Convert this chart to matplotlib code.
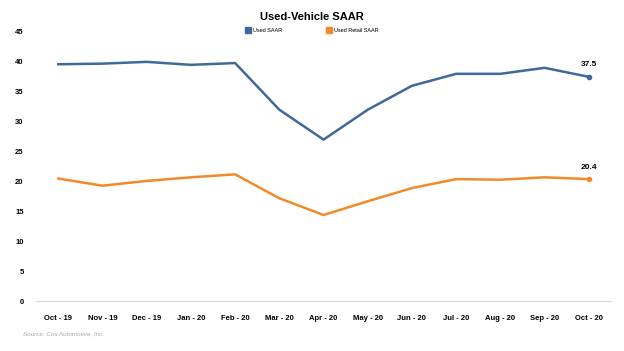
import matplotlib
matplotlib.use("Agg")
import matplotlib.pyplot as plt
from matplotlib.lines import Line2D

months = ['Oct - 19', 'Nov - 19', 'Dec - 19', 'Jan - 20', 'Feb - 20', 'Mar - 20', 'Apr - 20',
          'May - 20', 'Jun - 20', 'Jul - 20', 'Aug - 20', 'Sep - 20', 'Oct - 20']
used_saar = [39.6, 39.7, 40.0, 39.5, 39.8, 32.0, 27.0, 32.0, 36.0, 38.0, 38.0, 39.0, 37.5]
used_retail_saar = [20.5, 19.3, 20.1, 20.7, 21.2, 17.2, 14.4, 16.7, 18.9, 20.4, 20.3, 20.7, 20.4]

blue = '#40699B'
orange = '#F28A2A'

plt.rcParams['font.family'] = ['Liberation Sans', 'DejaVu Sans']

fig = plt.figure(figsize=(6.24, 3.51), dpi=100)
ax = fig.add_axes([0.058, 0.142, 0.921, 0.767])

x = list(range(len(months)))
ax.plot(x, used_saar, color=blue, lw=1.8, solid_joinstyle='round')
ax.plot(x, used_retail_saar, color=orange, lw=1.8, solid_joinstyle='round')
ax.plot(x[-1], used_saar[-1], 'o', color=blue, ms=3)
ax.plot(x[-1], used_retail_saar[-1], 'o', color=orange, ms=3)
ax.annotate(f'{used_saar[-1]:.1f}', (x[-1], used_saar[-1]), xytext=(0, 6),
            textcoords='offset points', ha='center', va='bottom', fontsize=6, fontweight='bold')
ax.annotate(f'{used_retail_saar[-1]:.1f}', (x[-1], used_retail_saar[-1]), xytext=(0, 6),
            textcoords='offset points', ha='center', va='bottom', fontsize=6, fontweight='bold')

ax.set_xlim(-0.5, len(months) - 0.5)
ax.set_ylim(0, 45)
ax.set_yticks(range(0, 46, 5))
ax.set_xticks(x)
ax.set_xticklabels(months)
for s in ['top', 'right', 'left']:
    ax.spines[s].set_visible(False)
ax.spines['bottom'].set_color('#D9D9D9')
ax.spines['bottom'].set_linewidth(0.8)
ax.tick_params(axis='both', length=0, labelsize=5.5)
ax.tick_params(axis='x', pad=10)
ax.tick_params(axis='y', pad=9)
for t in ax.get_xticklabels() + ax.get_yticklabels():
    t.set_fontweight('bold')

fig.text(0.5, 0.952, 'Used-Vehicle SAAR', ha='center', va='center', fontsize=8, fontweight='bold')

handles = [Line2D([], [], marker='s', ls='', color=blue, ms=4),
           Line2D([], [], marker='s', ls='', color=orange, ms=4)]
fig.legend(handles, ['Used SAAR', 'Used Retail SAAR'], loc='center', bbox_to_anchor=(0.5, 0.912),
           ncol=2, frameon=False, fontsize=4, columnspacing=8, handletextpad=0.3, handlelength=1)

fig.text(0.037, 0.045, 'Source: Cox Automotive, Inc.', fontsize=4.5, style='italic', color='#A6A6A6')

fig.savefig('out.png', dpi=100)
